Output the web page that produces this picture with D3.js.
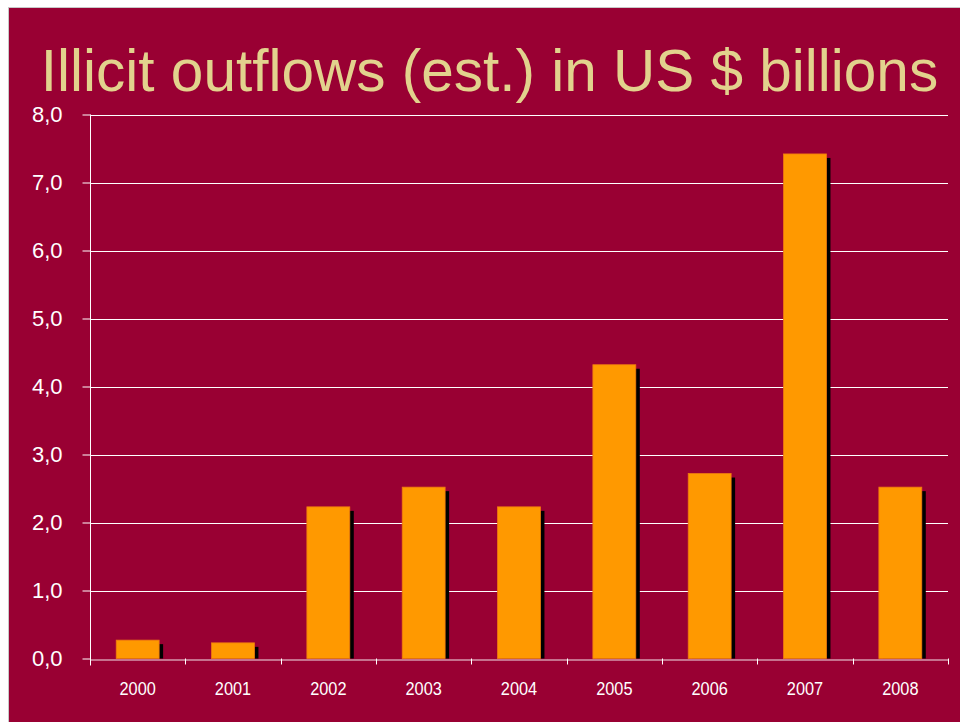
<!DOCTYPE html>
<html>
<head>
<meta charset="utf-8">
<script src="https://cdn.jsdelivr.net/npm/d3@7"></script>
<style>
  html, body { margin: 0; padding: 0; background: #ffffff; }
  svg { display: block; }
</style>
</head>
<body>
<svg id="chart" width="960" height="722"></svg>
<script>
const title = "Illicit outflows (est.) in US $ billions";
const years = ["2000", "2001", "2002", "2003", "2004", "2005", "2006", "2007", "2008"];
const values = [0.27, 0.23, 2.23, 2.52, 2.23, 4.32, 2.72, 7.42, 2.52];
const yTicks = [0, 1, 2, 3, 4, 5, 6, 7, 8];

const svg = d3.select("#chart");
const W = 960, H = 722;
const margin = { left: 90, right: 12, top: 114.5, bottom: 63.5 };

// slide background
svg.append("rect")
  .attr("x", 8.5).attr("y", 7.5)
  .attr("width", W - 8).attr("height", H - 7)
  .attr("fill", "#990033")
  .attr("stroke", "#c8c8c8").attr("stroke-width", 1);

// title
svg.append("text")
  .attr("x", 489.5).attr("y", 91)
  .attr("text-anchor", "middle")
  .attr("font-family", "'Liberation Sans', Arial, sans-serif")
  .attr("font-size", 58.5)
  .attr("fill", "#E2D28D")
  .text(title);

const x = d3.scaleBand()
  .domain(years)
  .range([margin.left, W - margin.right])
  .paddingInner(0.55).paddingOuter(0.275);

const xOuter = d3.scaleBand().domain(years).range([margin.left, W - margin.right]);

const y = d3.scaleLinear().domain([0, 8]).range([H - margin.bottom, margin.top]);

const fmt = v => d3.format(".1f")(v).replace(".", ",");

// gridlines
svg.append("g")
  .selectAll("line")
  .data(yTicks.filter(d => d > 0))
  .join("line")
  .attr("x1", margin.left).attr("x2", W - margin.right)
  .attr("y1", d => Math.round(y(d)) + 0.5).attr("y2", d => Math.round(y(d)) + 0.5)
  .attr("stroke", "#ffffff").attr("stroke-width", 1);

// y axis
const yAxis = d3.axisLeft(y).tickValues(yTicks).tickFormat(fmt).tickSize(8).tickPadding(20);
const gy = svg.append("g")
  .attr("transform", `translate(${margin.left + 0.5},0)`)
  .call(yAxis);
gy.select(".domain").remove();
gy.selectAll(".tick line").attr("stroke", "#ffffff").attr("stroke-width", 1);
gy.selectAll(".tick text")
  .attr("fill", "#ffffff")
  .attr("font-family", "'Liberation Sans', Arial, sans-serif")
  .attr("font-size", 22);

// vertical axis line
svg.append("line")
  .attr("x1", margin.left + 0.5).attr("x2", margin.left + 0.5)
  .attr("y1", margin.top).attr("y2", H - margin.bottom + 7)
  .attr("stroke", "#ffffff").attr("stroke-width", 1);

// shadows
svg.append("g")
  .selectAll("rect")
  .data(values)
  .join("rect")
  .attr("x", (d, i) => x(years[i]) + 4)
  .attr("y", d => y(d) + 4)
  .attr("width", x.bandwidth())
  .attr("height", d => y(0) - y(d) - 4)
  .attr("fill", "#000000");

// bars
svg.append("g")
  .selectAll("rect")
  .data(values)
  .join("rect")
  .attr("x", (d, i) => x(years[i]))
  .attr("y", d => y(d))
  .attr("width", x.bandwidth())
  .attr("height", d => y(0) - y(d))
  .attr("fill", "#FF9900")
  .attr("stroke", "#F07A10").attr("stroke-width", 0.8);

// x axis baseline + labels
const xAxis = d3.axisBottom(xOuter).tickSize(0).tickPadding(22);
const gx = svg.append("g")
  .attr("transform", `translate(0,${Math.round(y(0)) + 0.5})`)
  .call(xAxis);
gx.select(".domain").attr("stroke", "rgba(255,255,255,0.6)").attr("stroke-width", 1.5);
gx.selectAll(".tick text")
  .attr("fill", "#ffffff")
  .attr("font-family", "'Liberation Sans', Arial, sans-serif")
  .attr("font-size", 19)
  .attr("transform", "scale(0.86,1)");

// boundary ticks
const bounds = years.slice(1).map(yr => xOuter(yr)).concat([W - margin.right]);
svg.append("g")
  .selectAll("line")
  .data(bounds)
  .join("line")
  .attr("x1", d => Math.round(d) + 0.5).attr("x2", d => Math.round(d) + 0.5)
  .attr("y1", y(0)).attr("y2", y(0) + 6)
  .attr("stroke", "#ffffff").attr("stroke-width", 1);
</script>
</body>
</html>
